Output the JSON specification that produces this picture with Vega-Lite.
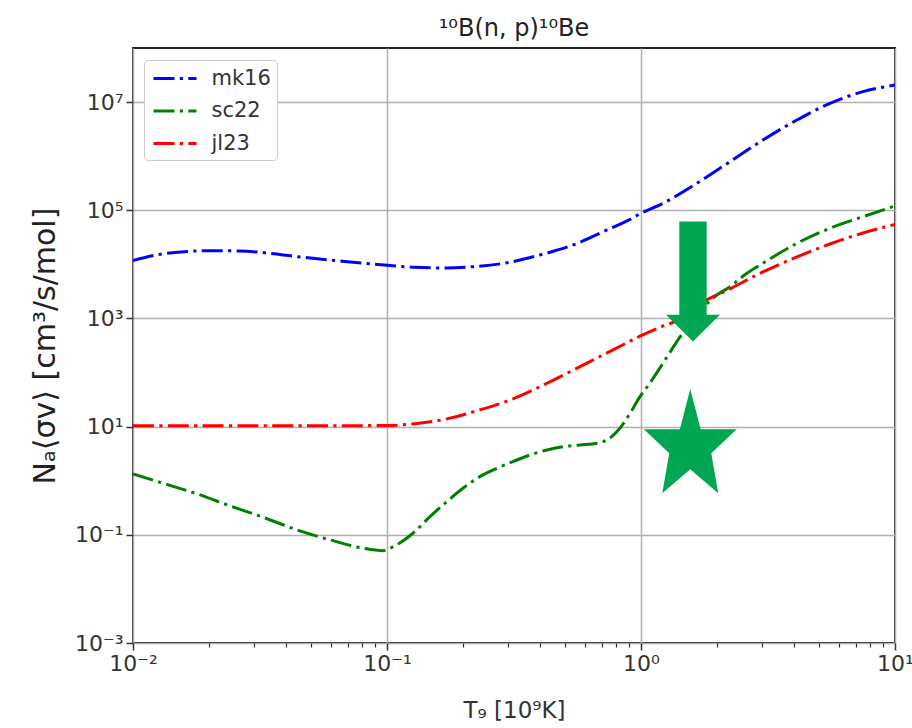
{
  "$schema": "https://vega.github.io/schema/vega-lite/v6.json",
  "width": 762,
  "height": 595,
  "autosize": {"type": "none"},
  "padding": {"left": 133, "top": 48, "right": 17, "bottom": 85},
  "background": "white",
  "title": {"text": "¹⁰B(n, p)¹⁰Be", "fontSize": 24, "font": "DejaVu Sans", "fontWeight": "normal", "color": "#222222", "baseline": "alphabetic", "offset": 11, "dy": 23, "anchor": "middle"},
  "config": {
    "font": "DejaVu Sans",
    "view": {"stroke": "#222222", "strokeWidth": 1.8}
  },
  "datasets": {
    "rates": [
      {"series": "mk16", "T9": 0.01, "rate": 11800},
      {"series": "mk16", "T9": 0.0131, "rate": 15600},
      {"series": "mk16", "T9": 0.0201, "rate": 17900},
      {"series": "mk16", "T9": 0.0263, "rate": 17700},
      {"series": "mk16", "T9": 0.0346, "rate": 16000},
      {"series": "mk16", "T9": 0.0467, "rate": 13500},
      {"series": "mk16", "T9": 0.0635, "rate": 11700},
      {"series": "mk16", "T9": 0.0805, "rate": 10500},
      {"series": "mk16", "T9": 0.1, "rate": 9600},
      {"series": "mk16", "T9": 0.1265, "rate": 8840},
      {"series": "mk16", "T9": 0.172, "rate": 8580},
      {"series": "mk16", "T9": 0.218, "rate": 9060},
      {"series": "mk16", "T9": 0.297, "rate": 10700},
      {"series": "mk16", "T9": 0.4, "rate": 14900},
      {"series": "mk16", "T9": 0.54, "rate": 22800},
      {"series": "mk16", "T9": 0.734, "rate": 43300},
      {"series": "mk16", "T9": 0.906, "rate": 68000},
      {"series": "mk16", "T9": 1.0, "rate": 88000},
      {"series": "mk16", "T9": 1.222, "rate": 135000},
      {"series": "mk16", "T9": 1.66, "rate": 316000},
      {"series": "mk16", "T9": 2.239, "rate": 791000},
      {"series": "mk16", "T9": 3.02, "rate": 1990000},
      {"series": "mk16", "T9": 4.11, "rate": 4670000},
      {"series": "mk16", "T9": 5.546, "rate": 9500000},
      {"series": "mk16", "T9": 7.48, "rate": 15600000},
      {"series": "mk16", "T9": 10, "rate": 20700000},
      {"series": "sc22", "T9": 0.01, "rate": 1.34},
      {"series": "sc22", "T9": 0.0131, "rate": 0.9},
      {"series": "sc22", "T9": 0.0179, "rate": 0.57},
      {"series": "sc22", "T9": 0.0241, "rate": 0.342},
      {"series": "sc22", "T9": 0.0325, "rate": 0.211},
      {"series": "sc22", "T9": 0.0443, "rate": 0.123},
      {"series": "sc22", "T9": 0.0597, "rate": 0.0805},
      {"series": "sc22", "T9": 0.0805, "rate": 0.0565},
      {"series": "sc22", "T9": 0.0964, "rate": 0.051},
      {"series": "sc22", "T9": 0.1027, "rate": 0.0565},
      {"series": "sc22", "T9": 0.1265, "rate": 0.107},
      {"series": "sc22", "T9": 0.1476, "rate": 0.217},
      {"series": "sc22", "T9": 0.172, "rate": 0.411},
      {"series": "sc22", "T9": 0.199, "rate": 0.726},
      {"series": "sc22", "T9": 0.232, "rate": 1.19},
      {"series": "sc22", "T9": 0.271, "rate": 1.7},
      {"series": "sc22", "T9": 0.313, "rate": 2.26},
      {"series": "sc22", "T9": 0.366, "rate": 3.0},
      {"series": "sc22", "T9": 0.427, "rate": 3.71},
      {"series": "sc22", "T9": 0.493, "rate": 4.27},
      {"series": "sc22", "T9": 0.575, "rate": 4.58},
      {"series": "sc22", "T9": 0.671, "rate": 4.93},
      {"series": "sc22", "T9": 0.734, "rate": 5.68},
      {"series": "sc22", "T9": 0.826, "rate": 9.33},
      {"series": "sc22", "T9": 0.906, "rate": 17.7},
      {"series": "sc22", "T9": 0.991, "rate": 35.8},
      {"series": "sc22", "T9": 1.085, "rate": 64.3},
      {"series": "sc22", "T9": 1.222, "rate": 150},
      {"series": "sc22", "T9": 1.425, "rate": 455},
      {"series": "sc22", "T9": 1.66, "rate": 1160},
      {"series": "sc22", "T9": 1.92, "rate": 2390},
      {"series": "sc22", "T9": 2.239, "rate": 3870},
      {"series": "sc22", "T9": 2.61, "rate": 6840},
      {"series": "sc22", "T9": 3.02, "rate": 10500},
      {"series": "sc22", "T9": 4.11, "rate": 24500},
      {"series": "sc22", "T9": 5.546, "rate": 46500},
      {"series": "sc22", "T9": 7.48, "rate": 76200},
      {"series": "sc22", "T9": 10, "rate": 120000},
      {"series": "jl23", "T9": 0.01, "rate": 10.4},
      {"series": "jl23", "T9": 0.03, "rate": 10.4},
      {"series": "jl23", "T9": 0.06, "rate": 10.4},
      {"series": "jl23", "T9": 0.1, "rate": 10.5},
      {"series": "jl23", "T9": 0.1265, "rate": 11.2},
      {"series": "jl23", "T9": 0.172, "rate": 13.9},
      {"series": "jl23", "T9": 0.232, "rate": 20.4},
      {"series": "jl23", "T9": 0.313, "rate": 32.5},
      {"series": "jl23", "T9": 0.4266, "rate": 63.4},
      {"series": "jl23", "T9": 0.575, "rate": 128.5},
      {"series": "jl23", "T9": 0.776, "rate": 262},
      {"series": "jl23", "T9": 1.0, "rate": 480},
      {"series": "jl23", "T9": 1.222, "rate": 727},
      {"series": "jl23", "T9": 1.46, "rate": 1020},
      {"series": "jl23", "T9": 1.66, "rate": 1700},
      {"series": "jl23", "T9": 2.239, "rate": 3510},
      {"series": "jl23", "T9": 3.02, "rate": 7240},
      {"series": "jl23", "T9": 4.11, "rate": 13700},
      {"series": "jl23", "T9": 5.546, "rate": 23800},
      {"series": "jl23", "T9": 7.48, "rate": 38000},
      {"series": "jl23", "T9": 10, "rate": 54700}
    ],
    "marks": [
      {"kind": "arrow", "T9": 1.602, "rate": 4830},
      {"kind": "star", "T9": 1.563, "rate": 5.4}
    ]
  },
  "layer": [
    {
      "data": {"name": "rates"},
      "mark": {"type": "line", "strokeWidth": 3, "strokeDash": [21, 5.3, 3.2, 5.3], "interpolate": "monotone", "clip": true},
      "encoding": {
        "x": {
          "field": "T9", "type": "quantitative",
          "scale": {"type": "log", "domain": [0.01, 10], "nice": false},
          "axis": {
            "orient": "bottom",
            "values": [0.01, 0.1, 1, 10],
            "labelExpr": "datum.value < 0.05 ? '10⁻²' : datum.value < 0.5 ? '10⁻¹' : datum.value < 5 ? '10⁰' : '10¹'",
            "grid": true, "gridColor": "#b0b0b0", "gridWidth": 1.5,
            "domain": false,
            "tickSize": 7, "tickWidth": 1.5, "tickColor": "#333333",
            "labelFontSize": 22, "labelColor": "#333333", "labelPadding": 3, "labelFlush": false,
            "title": "T₉ [10⁹K]", "titleFontSize": 23, "titleFontWeight": "normal", "titleColor": "#333333",
            "titleY": 67, "titleBaseline": "middle"
          }
        },
        "y": {
          "field": "rate", "type": "quantitative",
          "scale": {"type": "log", "domain": [0.001, 100000000], "nice": false},
          "axis": {
            "values": [0.001, 0.1, 10, 1000, 100000, 10000000],
            "labelExpr": "datum.value < 0.01 ? '10⁻³' : datum.value < 1 ? '10⁻¹' : datum.value < 100 ? '10¹' : datum.value < 10000 ? '10³' : datum.value < 1000000 ? '10⁵' : '10⁷'",
            "grid": true, "gridColor": "#b0b0b0", "gridWidth": 1.5,
            "domain": false,
            "tickSize": 7, "tickWidth": 1.5, "tickColor": "#333333",
            "labelFontSize": 22, "labelColor": "#333333", "labelPadding": 3,
            "title": "Nₐ⟨σv⟩ [cm³/s/mol]", "titleFontSize": 30, "titleFontWeight": "normal", "titleColor": "#222222",
            "titleX": -88, "titleY": 297.5, "titleAngle": 270, "titleBaseline": "middle", "titleAlign": "center"
          }
        },
        "color": {
          "field": "series", "type": "nominal",
          "scale": {"domain": ["mk16", "sc22", "jl23"], "range": ["#0000ff", "#008000", "#ff0000"]},
          "legend": {
            "title": null, "orient": "none", "legendX": 11, "legendY": 12,
            "symbolType": "M-2,0L2,0", "symbolSize": 462, "symbolStrokeWidth": 3, "symbolDash": [21, 5.3, 3.2, 5.3],
            "symbolOffset": 12.5,
            "labelFontSize": 21, "labelColor": "#333333", "labelOffset": 24,
            "labelExpr": "datum.label + '\u00a0\u00a0'",
            "padding": 6, "rowPadding": 9.5,
            "strokeColor": "#cccccc", "fillColor": "white", "cornerRadius": 4
          }
        }
      }
    },
    {
      "data": {"name": "marks"},
      "transform": [{"filter": "datum.kind == 'arrow'"}],
      "mark": {"type": "point", "shape": "M-0.228,-1L0.228,-1L0.228,0.555L0.45,0.555L0,1L-0.45,0.555L-0.228,0.555Z", "filled": true, "size": 14400, "color": "#00a651", "opacity": 1, "strokeWidth": 0},
      "encoding": {
        "x": {
          "field": "T9", "type": "quantitative",
          "axis": {
            "orient": "bottom",
            "values": [0.02, 0.03, 0.04, 0.05, 0.06, 0.07, 0.08, 0.09, 0.2, 0.3, 0.4, 0.5, 0.6, 0.7, 0.8, 0.9, 2, 3, 4, 5, 6, 7, 8, 9],
            "labels": false, "grid": false, "domain": false,
            "tickSize": 4, "tickWidth": 1.2, "tickColor": "#333333",
            "title": null
          }
        },
        "y": {"field": "rate", "type": "quantitative"}
      }
    },
    {
      "data": {"name": "marks"},
      "transform": [{"filter": "datum.kind == 'star'"}],
      "mark": {"type": "point", "shape": "M0,-1L0.199,-0.228L0.889,-0.228L0.402,0.232L0.536,1L0,0.538L-0.536,1L-0.402,0.232L-0.889,-0.228L-0.199,-0.228Z", "filled": true, "size": 10900, "color": "#00a651", "opacity": 1, "strokeWidth": 0},
      "encoding": {
        "x": {"field": "T9", "type": "quantitative", "axis": null},
        "y": {"field": "rate", "type": "quantitative"}
      }
    }
  ],
  "resolve": {"axis": {"x": "independent"}}
}
